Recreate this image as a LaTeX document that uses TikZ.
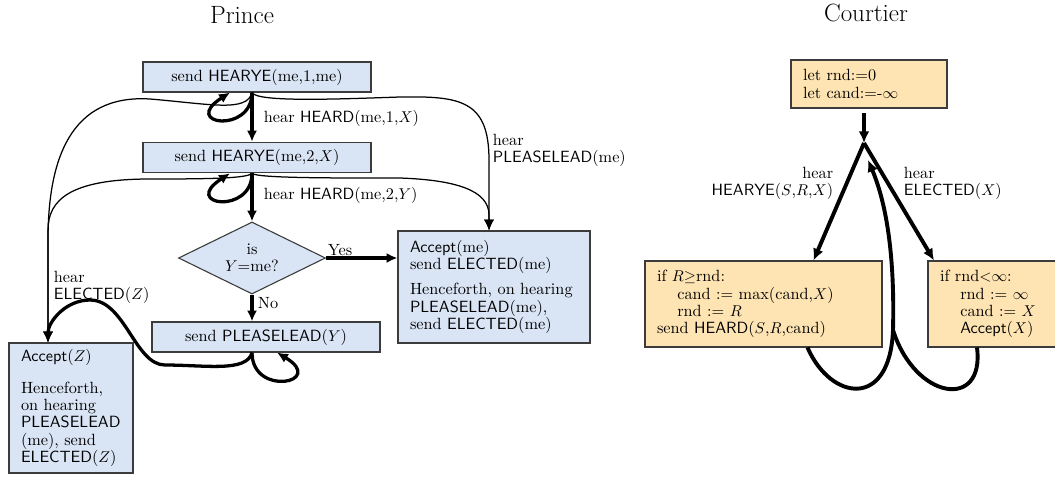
\documentclass[tikz,border=0pt]{standalone}
\usetikzlibrary{arrows.meta,shapes.geometric,calc}
\definecolor{PrinceFill}{RGB}{217,228,244}
\definecolor{CourtierFill}{RGB}{254,228,178}
\definecolor{BoxLine}{RGB}{60,60,60}

\begin{document}
\begin{tikzpicture}[x=0.64pt,y=-0.64pt,font=\fontsize{10.4}{11.1}\selectfont,
  princebox/.style={draw=BoxLine,fill=PrinceFill,line width=0.7pt,inner sep=0pt},
  notebox/.style={draw=BoxLine,line width=0.7pt,align=left,inner xsep=7.7pt,inner ysep=0pt},
  bigarrow/.style={line width=2.1pt,-{Latex[length=7pt,width=6.5pt]}},
  thinarrow/.style={line width=0.8pt,-{Latex[length=7pt,width=6.5pt]}},
  courtarrow/.style={line width=2.5pt,-{Latex[length=7.5pt,width=7pt]}},
  lbl/.style={inner sep=1pt}]
  \useasboundingbox (0,0) rectangle (1055,478);

  \node[font=\fontsize{16}{19}\selectfont] (princeT) at (242,15) {Prince};
  \node[font=\fontsize{16}{19}\selectfont] (courtT) at (866,13) {Courtier};

  % Prince: one box per state, coordinates in pixels of the page
  \node[princebox,minimum width=145.9pt,minimum height=19.2pt] (hear1) at (257,77)
    {send \textsf{HEARYE}(me,1,me)};
  \node[princebox,minimum width=145.9pt,minimum height=19.6pt] (hear2) at (257,157.5)
    {send \textsf{HEARYE}(me,2,$X$)};
  \node[princebox,diamond,aspect=2.04,align=center,minimum width=94.1pt,minimum height=46.1pt]
    (isme) at (252,258) {is\\$Y$=me?};
  \node[princebox,minimum width=145.9pt,minimum height=19.2pt] (plead) at (266,337)
    {send \textsf{PLEASELEAD}($Y$)};
  \node[notebox,fill=PrinceFill,text width=64pt,minimum height=83.2pt] (acceptZ) at (71,408)
    {\textsf{Accept}($Z$)\\[9pt] Henceforth,\\ on hearing\\ \textsf{PLEASELEAD}\\ (me), send\\ \textsf{ELECTED}($Z$)};
  \node[notebox,fill=PrinceFill,text width=107.5pt,minimum height=71.7pt] (acceptMe) at (494,287)
    {\textsf{Accept}(me)\\ send \textsf{ELECTED}(me)\\[5pt] Henceforth, on hearing\\ \textsf{PLEASELEAD}(me),\\ send \textsf{ELECTED}(me)};

  \draw[bigarrow] (hear1.south -| isme.north) -- (hear2.north -| isme.north);
  \draw[bigarrow] (hear2.south -| isme.north) -- (isme.north);
  \draw[bigarrow] (isme.east) -- (isme.east -| acceptMe.west);
  \draw[bigarrow] (isme.south) -- (plead.north -| isme.south);
  \draw[bigarrow] (hear1.south -| isme.north) .. controls +(0,42) and +(-50,32) .. ($(hear1.south)+(-27,0)$);
  \draw[bigarrow] (hear2.south -| isme.north) .. controls +(0,42) and +(-50,32) .. ($(hear2.south)+(-27,0)$);
  \draw[bigarrow] (plead.south -| isme.south) .. controls +(0,45) and +(50,30) .. ($(plead.south)+(11,0)$);
  \draw[thinarrow] (hear1.south -| isme.north) .. controls +(5,10) and +(-60,2) .. (400,97)
    .. controls +(60,-1) and +(0,-60) .. (489,160) -- ($(acceptMe.north)+(-5,0)$);
  \draw[thinarrow] (hear2.south -| isme.north) .. controls +(5,5) and +(-60,0) .. (400,178)
    .. controls +(55,2) and +(0,-25) .. (489,215) -- ($(acceptMe.north)+(-5,0)$);
  \draw[thinarrow] (hear1.south -| isme.north) .. controls +(-5,20) and +(60,5) .. (150,99)
    .. controls +(-80,-5) and +(0,-80) .. (48,240) -- ($(acceptZ.north)+(-23,0)$);
  \draw[thinarrow] (hear2.south -| isme.north) .. controls +(-5,5) and +(60,0) .. (150,179)
    .. controls +(-80,0) and +(0,-30) .. (48,230) -- ($(acceptZ.north)+(-23,0)$);
  \draw[bigarrow] (plead.south -| isme.south) .. controls +(-5,20) and +(40,0) .. (165,365)
    .. controls +(-30,0) and +(35,0) .. (90,300) .. controls +(-25,0) and +(0,-20) .. ($(acceptZ.north)+(-23,0)$);

  \node[lbl,anchor=west] (heard1) at (262,118) {hear \textsf{HEARD}(me,1,$X$)};
  \node[lbl,anchor=west] (heard2) at (262,195) {hear \textsf{HEARD}(me,2,$Y$)};
  \node[lbl] (yes) at (340,250) {Yes};
  \node[lbl,anchor=west] (no) at (256,303) {No};
  \node[lbl,anchor=west,align=left] (pleaseL) at (491,150.5) {hear\\\textsf{PLEASELEAD}(me)};
  \node[lbl,anchor=west,align=left] (electedZ) at (52,287.5) {hear\\\textsf{ELECTED}($Z$)};

  % Courtier
  \node[notebox,fill=CourtierFill,text width=84.4pt,minimum height=30.7pt] (init) at (869,84)
    {let rnd:=0\\ let cand:=-$\infty$};
  \node[notebox,fill=CourtierFill,text width=136.3pt,minimum height=55pt] (ifR) at (763.5,304)
    {if $R$$\geq$rnd:\\ \hspace*{13pt}cand := max(cand,$X$)\\ \hspace*{13pt}rnd := $R$\\ send \textsf{HEARD}($S$,$R$,cand)};
  \node[notebox,fill=CourtierFill,text width=70.4pt,minimum height=55pt] (ifrnd) at (995,304)
    {if rnd$<$$\infty$:\\ \hspace*{13pt}rnd := $\infty$\\ \hspace*{13pt}cand := $X$\\ \hspace*{13pt}\textsf{Accept}($X$)};
  \coordinate (J) at (864,143);

  \draw[courtarrow,shorten <=3pt] (init.south -| J) -- (J);
  \draw[courtarrow] (J) -- ($(ifR.north)+(50,0)$);
  \draw[courtarrow] (J) -- ($(ifrnd.north)+(-61,0)$);
  \draw[courtarrow] ($(ifR.south)+(44,0)$) .. controls +(23,53) and +(-3,80) .. (893,330)
    .. controls +(2,-80) and +(17,40) .. ($(J)+(4,17)$);
  \draw[line width=2.5pt] ($(ifrnd.south)+(-18,0)$) .. controls +(8,63) and +(22,70) .. (893,330);

  \node[lbl,anchor=east,align=right] (hearyeL) at (835,183.5) {hear\\\textsf{HEARYE}($S$,$R$,$X$)};
  \node[lbl,anchor=west,align=left] (electedX) at (902,183.5) {hear\\\textsf{ELECTED}($X$)};
\end{tikzpicture}
\end{document}
